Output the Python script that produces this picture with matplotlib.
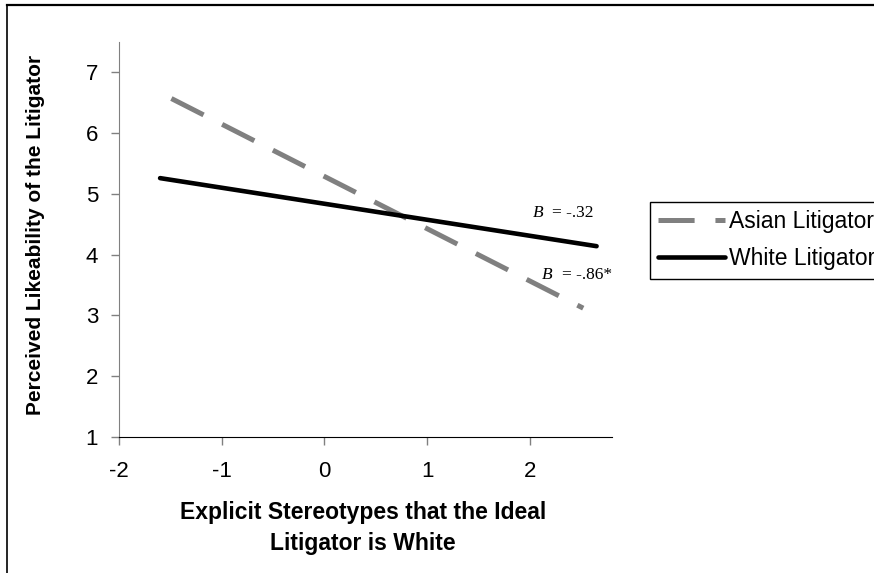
import matplotlib.pyplot as plt
from matplotlib.lines import Line2D

# values
asian_x = [-1.49, 2.52]
asian_y = [6.57, 3.12]
white_x = [-1.60, 2.65]
white_y = [5.26, 4.14]
x_ticks = [-2, -1, 0, 1, 2]
y_ticks = [1, 2, 3, 4, 5, 6, 7]
labels = ["Asian Litigator", "White Litigator"]

plt.rcParams['font.family'] = 'Liberation Sans'
plt.rcParams['lines.scale_dashes'] = False

fig = plt.figure(figsize=(8.74, 5.73), dpi=100)
ax = fig.add_axes([119/874, 1-437/573, (612-119)/874, (437-42)/573])

ax.plot(asian_x, asian_y, color="#808080", lw=3.6, dashes=(26, 15),
        solid_capstyle="butt", dash_capstyle="butt", label=labels[0])
ax.plot(white_x, white_y, color="black", lw=3.3, solid_capstyle="round",
        label=labels[1])

ax.set_xlim(-2, 2.8)
ax.set_ylim(1, 7.5)
ax.set_xticks(x_ticks)
ax.set_yticks(y_ticks)
ax.set_xticklabels([str(t) for t in x_ticks])
ax.tick_params(axis="both", labelsize=16, color="#808080", length=6, width=1)
ax.tick_params(axis="x", pad=11)
ax.tick_params(axis="y", pad=9)

for s in ["top", "right"]:
    ax.spines[s].set_visible(False)
ax.spines["left"].set_color("#808080")
ax.spines["bottom"].set_color("black")

ax.set_ylabel("Perceived Likeability of the Litigator", fontsize=15, fontweight="bold")
ax.yaxis.set_label_coords(-0.15, 0.511)
ax.set_xlabel("Explicit Stereotypes that the Ideal\nLitigator is White", fontsize=16.5,
              fontweight="bold", linespacing=1.4)
ax.xaxis.set_label_coords(0.495, -0.163)

# slope annotations
ax.text(2.03, 4.68, "B", family="Liberation Serif", style="italic", fontsize=12.5, va="center")
ax.text(2.215, 4.68, "= -.32", family="Liberation Serif", fontsize=12.5, va="center")
ax.text(2.117, 3.66, "B", family="Liberation Serif", style="italic", fontsize=12.5, va="center")
ax.text(2.31, 3.66, "= -.86*", family="Liberation Serif", fontsize=12.5, va="center")

leg = fig.legend(loc="upper left", bbox_to_anchor=(650/874, 1-202/573), fontsize=16.5,
                 frameon=True, fancybox=False, edgecolor="black", framealpha=1,
                 handlelength=2.9, handletextpad=0.2, borderpad=0.36, labelspacing=0.62,
                 borderaxespad=0)
leg.get_frame().set_linewidth(1)

# outer chart border
fig.add_artist(Line2D([7/874, 7/874], [0, 1-5/573], color="black", lw=1.2))
fig.add_artist(Line2D([7/874, 1], [1-5/573, 1-5/573], color="black", lw=1.6))

fig.savefig("out.png", dpi=100)
